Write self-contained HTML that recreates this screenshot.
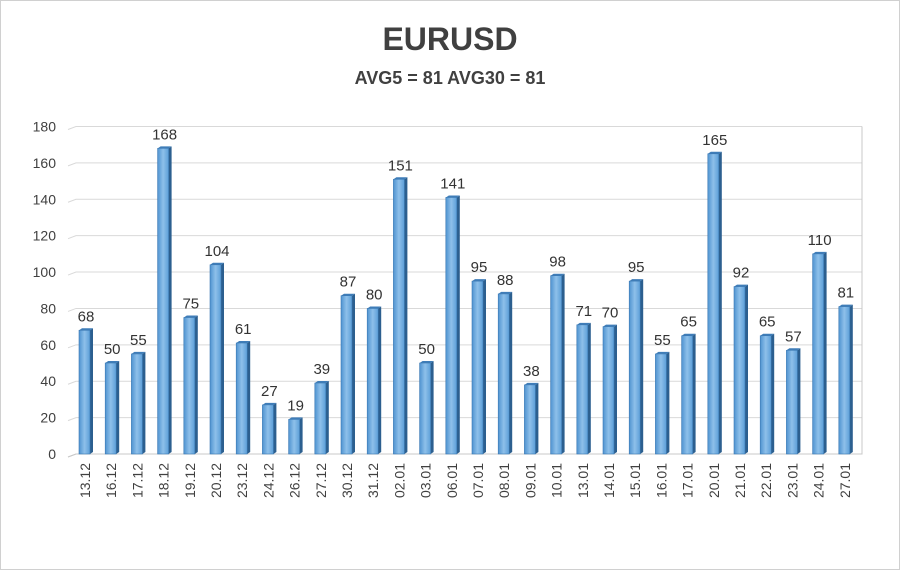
<!DOCTYPE html>
<html><head><meta charset="utf-8"><style>
html,body{margin:0;padding:0;background:#fff}
svg{display:block;font-family:"Liberation Sans",sans-serif}
</style></head><body>
<svg width="900" height="570" viewBox="0 0 900 570">
<defs>
<linearGradient id="g" x1="0" x2="1" y1="0" y2="0"><stop offset="0" stop-color="#4f93d0"/><stop offset="0.5" stop-color="#8ec0ea"/><stop offset="1" stop-color="#5d9fd8"/></linearGradient>
</defs>
<rect x="0.5" y="0.5" width="899" height="569" fill="#fff" stroke="#d0d0d0"/>
<text x="450" y="50" text-anchor="middle" font-size="32" font-weight="bold" fill="#404040">EURUSD</text>
<text x="450" y="84" text-anchor="middle" font-size="18" font-weight="bold" fill="#404040">AVG5 = 81 AVG30 = 81</text>
<g id="grid"></g><g id="bars"></g><g id="labels"></g>
</svg>
<script>
const categories=["13.12","16.12","17.12","18.12","19.12","20.12","23.12","24.12","26.12","27.12","30.12","31.12","02.01","03.01","06.01","07.01","08.01","09.01","10.01","13.01","14.01","15.01","16.01","17.01","20.01","21.01","22.01","23.01","24.01","27.01"];
const values=[68,50,55,168,75,104,61,27,19,39,87,80,151,50,141,95,88,38,98,71,70,95,55,65,165,92,65,57,110,81];
const yTicks=[0,20,40,60,80,100,120,140,160,180];
const NS="http://www.w3.org/2000/svg";
const y0=454,yTop=126.5,yMax=180;
function yScale(v){return y0-(v/yMax)*(y0-yTop);}
function xScale(i){return 85+i*26.2;}
function mk(t,a,p){const e=document.createElementNS(NS,t);for(const k in a)e.setAttribute(k,a[k]);p.appendChild(e);return e;}
const grid=document.getElementById('grid'),bars=document.getElementById('bars'),labels=document.getElementById('labels');
yTicks.forEach(t=>{const y=yScale(t);
 const l=mk('path',{d:`M68 ${y+3} L76 ${y} L862 ${y}`,stroke:'#d9d9d9','stroke-width':1,fill:'none'},grid);
 
 
 const tx=mk('text',{x:56,y:y+5,'text-anchor':'end','font-size':14,fill:'#404040'},grid);tx.textContent=t;
 
 
});
const ax=mk('path',{d:`M68 ${y0+3} L76 ${y0} L862 ${y0} L862 ${yTop}`,stroke:'#c8c8c8',fill:'none'},grid);


values.forEach((v,i)=>{const cx=xScale(i),top=yScale(v);
 const g=mk('g',{},bars);
 
 
 mk('polygon',{points:`${cx+5},${top} ${cx+8},${top-2} ${cx+8},${y0-2} ${cx+5},${y0}`,fill:'#2c5f8f'},g);
 mk('polygon',{points:`${cx-6},${top} ${cx-3},${top-2} ${cx+8},${top-2} ${cx+5},${top}`,fill:'#3f7db8'},g);
 mk('rect',{x:cx-6,y:top,width:11,height:y0-top,fill:'url(#g)',stroke:'#3a78b3','stroke-width':0.6},g);
 const vl=mk('text',{x:cx+1,y:top-9,'text-anchor':'middle','font-size':15,fill:'#333'},labels);vl.textContent=v;
 
 
 const cl=mk('text',{x:0,y:0,'text-anchor':'end','font-size':14,fill:'#404040',transform:`translate(${cx+5},${y0+9}) rotate(-90)`},labels);cl.textContent=categories[i];
 
 
});
</script>
</body></html>
